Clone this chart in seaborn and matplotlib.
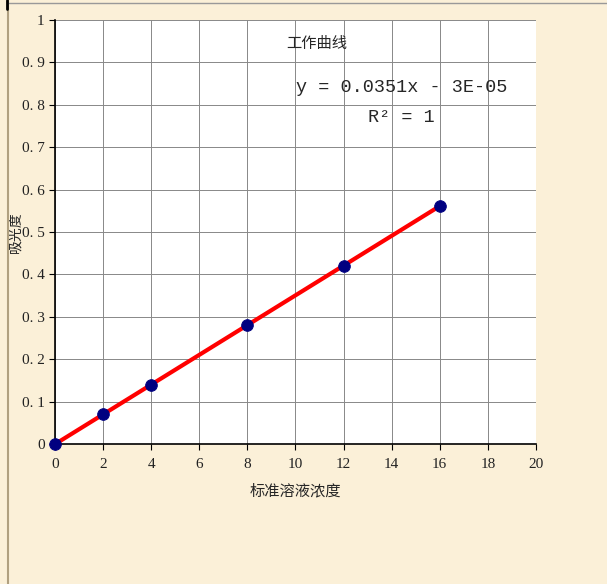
import numpy as np
import pandas as pd
import seaborn as sns
import matplotlib.pyplot as plt
from matplotlib.lines import Line2D

# 工作曲线 data
conc = [0, 2, 4, 8, 12, 16]
absorb = [0, 0.07, 0.14, 0.28, 0.42, 0.562]
x_ticks = [0, 2, 4, 6, 8, 10, 12, 14, 16, 18, 20]
y_ticks = [0, 0.1, 0.2, 0.3, 0.4, 0.5, 0.6, 0.7, 0.8, 0.9, 1]
y_tick_labels = ['0', '0. 1', '0. 2', '0. 3', '0. 4', '0. 5', '0. 6', '0. 7', '0. 8', '0. 9', '1']

df = pd.DataFrame({'conc': conc, 'absorb': absorb})
slope, intercept = np.polyfit(conc, absorb, 1)

sns.set_style('white')
plt.rcParams['font.family'] = ['Liberation Serif', 'Noto Sans CJK SC', 'DejaVu Sans']

fig = plt.figure(figsize=(6.07, 5.84), dpi=100)
fig.patch.set_facecolor('#fbf0d8')
ax = fig.add_axes([0.0906, 0.2397, 0.7924, 0.7261])
ax.set_facecolor('white')

fit_x = np.array([min(conc), max(conc)])
ax.plot(fit_x, slope * fit_x + intercept, color='#ff0000', lw=3, zorder=3)
sns.scatterplot(data=df, x='conc', y='absorb', ax=ax, color='#000080', s=70,
                edgecolor='#000080', zorder=4, clip_on=False)

ax.set_xlim(0, 20)
ax.set_ylim(0, 1)
ax.set_xticks(x_ticks)
ax.set_yticks(y_ticks)
ax.set_yticklabels(y_tick_labels)
ax.grid(True, color='#888888', lw=0.7)
ax.tick_params(axis='both', labelsize=11, length=4, color='black', colors='#222222',
               left=True, bottom=True, direction='out')
ax.tick_params(axis='x', pad=6)
for side in ['top', 'right']:
    ax.spines[side].set_visible(False)
for side in ['left', 'bottom']:
    ax.spines[side].set_color('black')
    ax.spines[side].set_linewidth(1.2)

ax.set_xlabel('标准溶液浓度', fontsize=11, labelpad=8, family=['Noto Sans CJK SC'])
ax.set_ylabel('吸光度', fontsize=10, family=['Noto Sans CJK SC'])
ax.yaxis.set_label_coords(-0.068, 0.5)

ax.text(0.545, 0.965, '工作曲线', transform=ax.transAxes, ha='center', va='top',
        fontsize=11, family=['Noto Sans CJK SC'])
ax.text(0.72, 0.84, 'y = 0.0351x - 3E-05', transform=ax.transAxes, ha='center',
        va='center', fontsize=13.3, family=['Liberation Mono'])
ax.text(0.72, 0.77, 'R² = 1', transform=ax.transAxes, ha='center', va='center',
        fontsize=13.3, family=['Liberation Mono'])

# frame lines of the sheet
fig.add_artist(Line2D([0.013, 0.013], [0, 1], color='#b0a080', lw=1.5))
fig.add_artist(Line2D([0.013, 1], [0.995, 0.995], color='#999999', lw=1))
fig.add_artist(Line2D([0.012, 0.012], [0.985, 1], color='black', lw=2))

fig.savefig('out.png', dpi=100, facecolor=fig.get_facecolor())
